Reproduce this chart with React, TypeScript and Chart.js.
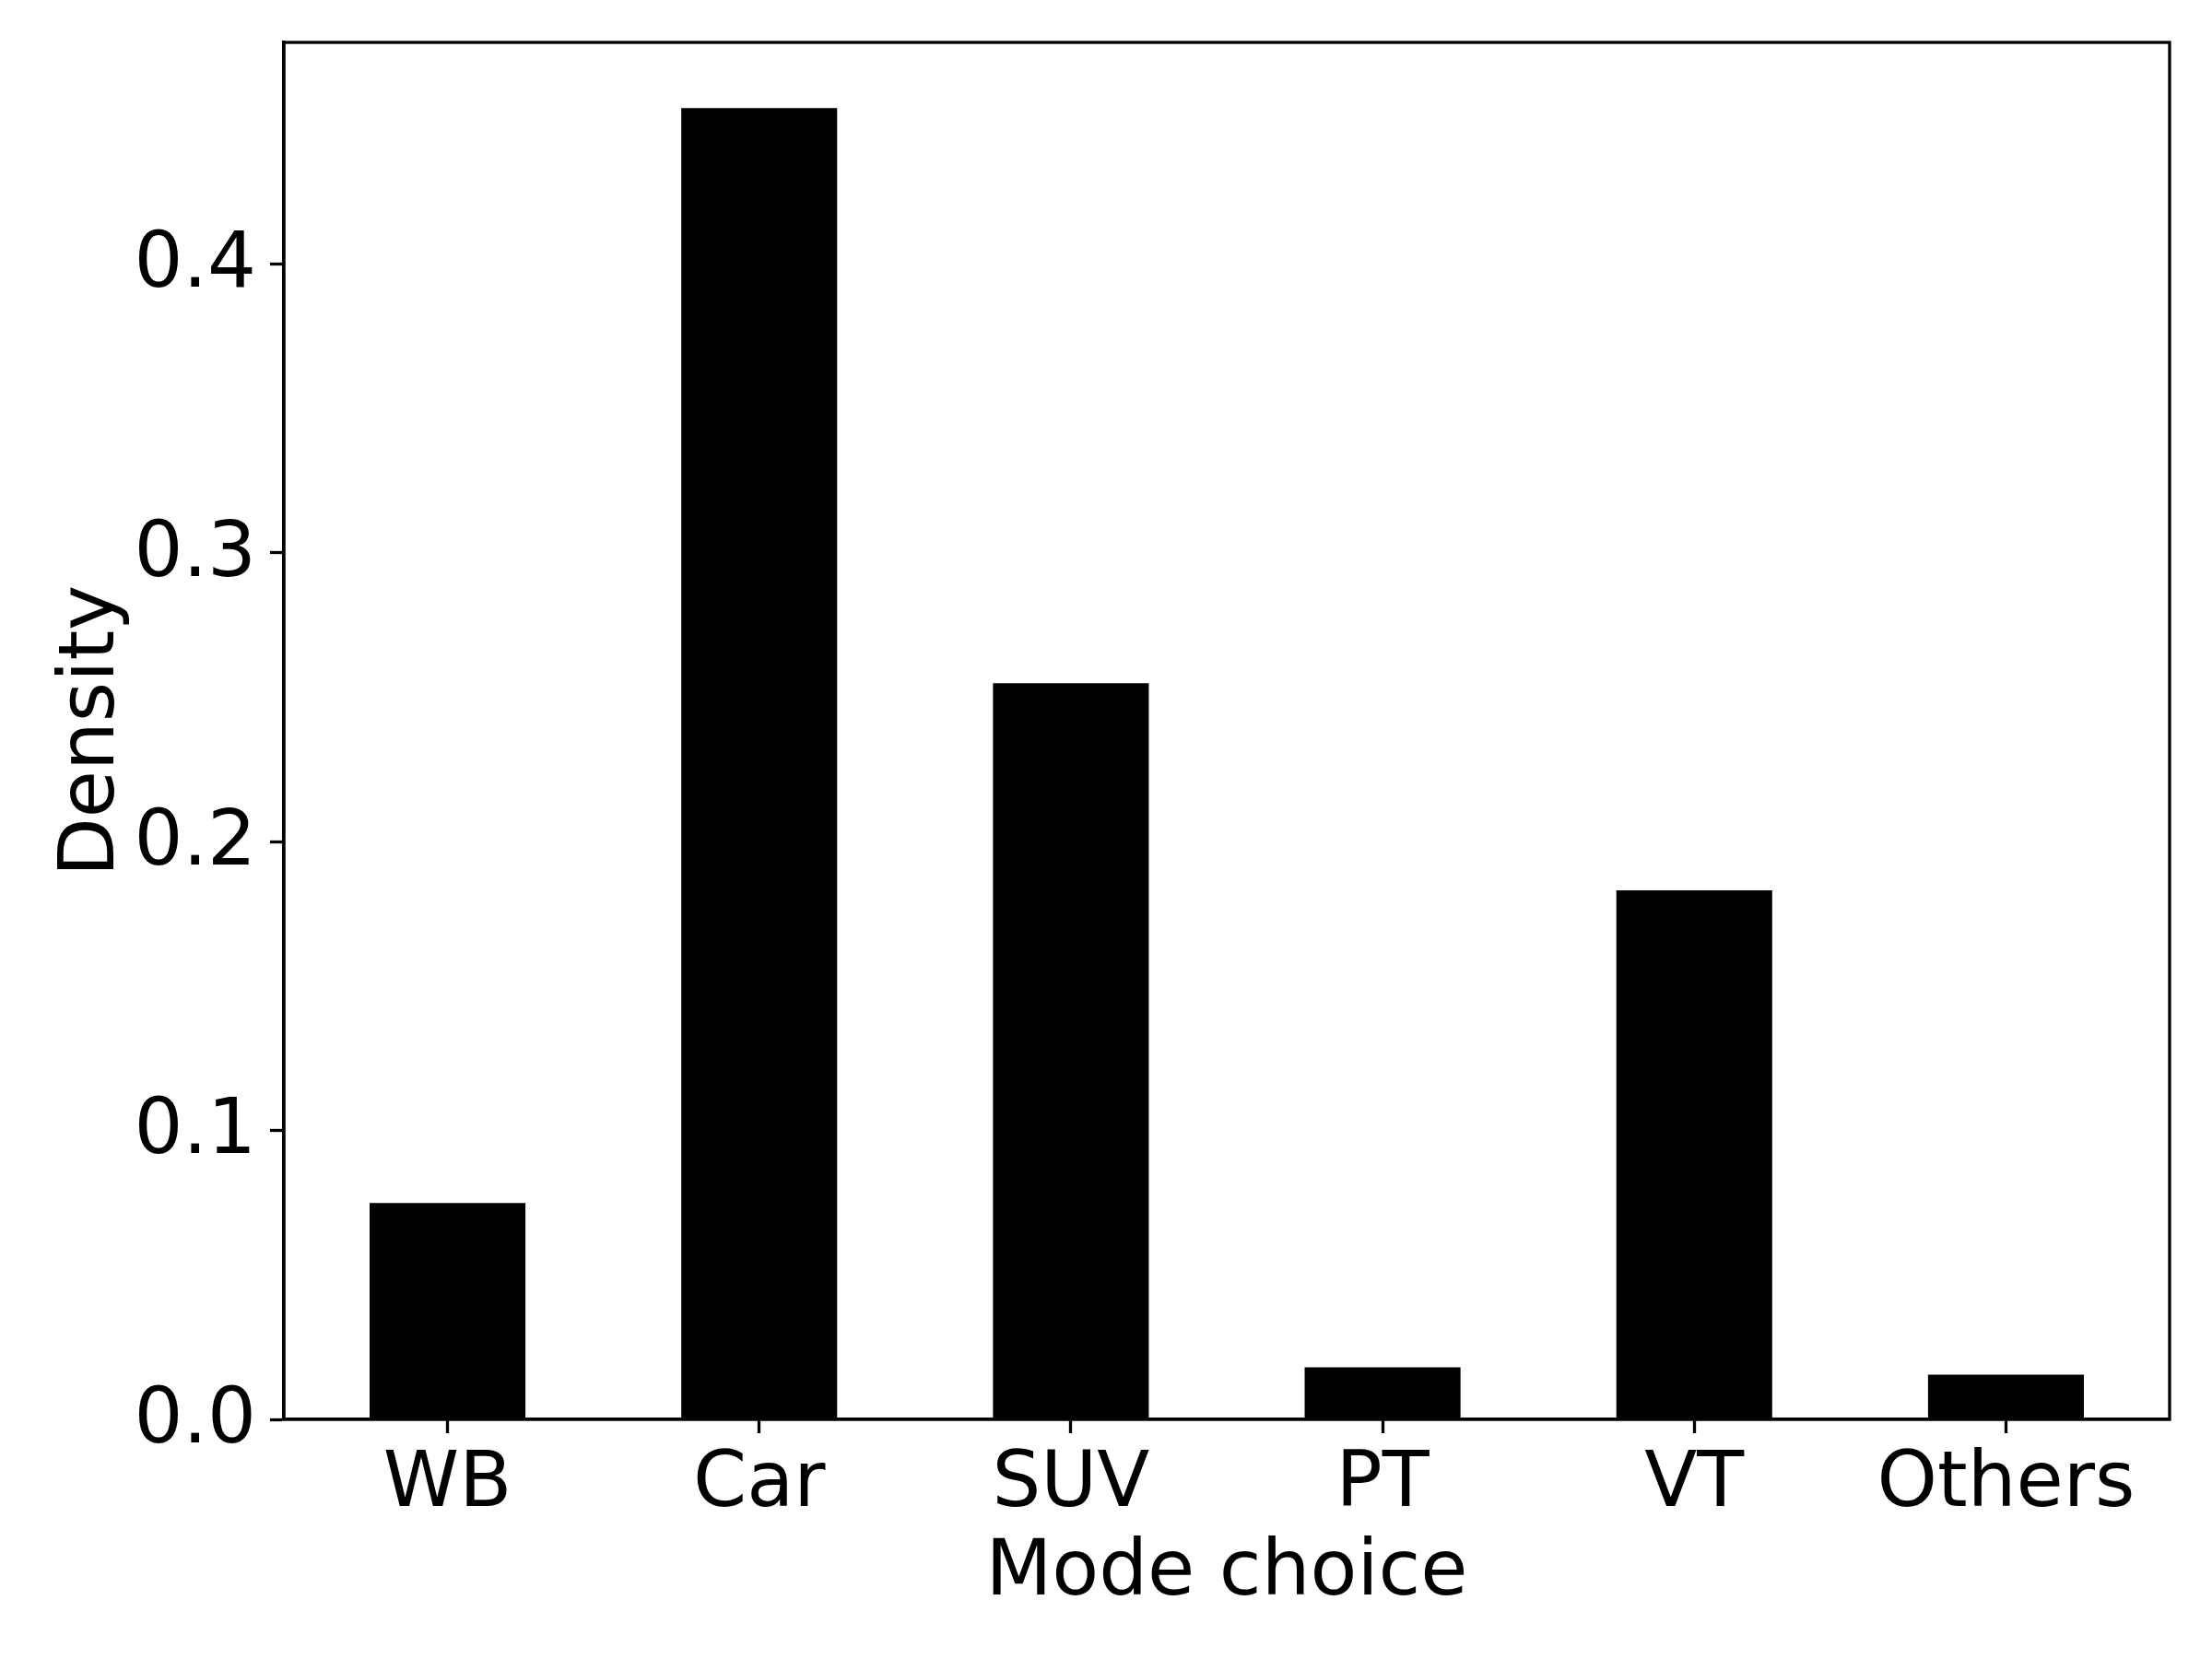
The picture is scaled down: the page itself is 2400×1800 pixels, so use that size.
import React, { useEffect, useRef } from "react";
import { Chart, registerables } from "chart.js";

Chart.register(...registerables);

const categories = ["WB", "Car", "SUV", "PT", "VT", "Others"];
const densityValues = [0.0749, 0.4541, 0.2549, 0.018, 0.1832, 0.0155];
const yTickValues = [0, 0.1, 0.2, 0.3, 0.4];
const xLabel = "Mode choice";
const yLabel = "Density";

const FONT = "'DejaVu Sans', 'Liberation Sans', sans-serif";
const FS = 83.3;
const LW = 3.3;

const framePlugin = {
  id: "frame",
  afterDraw(chart: any) {
    const { ctx, chartArea } = chart;
    ctx.save();
    ctx.strokeStyle = "#000";
    ctx.lineWidth = LW;
    ctx.strokeRect(
      chartArea.left,
      chartArea.top,
      chartArea.right - chartArea.left,
      chartArea.bottom - chartArea.top
    );
    ctx.restore();
  },
};

export default function App() {
  const ref = useRef<HTMLCanvasElement | null>(null);

  useEffect(() => {
    if (!ref.current) return;
    const maxVal = Math.max(...densityValues);
    const chart = new Chart(ref.current, {
      type: "bar",
      data: {
        datasets: [
          {
            data: densityValues.map((v, i) => ({ x: i, y: v })),
            backgroundColor: "#000000",
            borderWidth: 0,
            barPercentage: 0.5,
            categoryPercentage: 1.0,
          },
        ],
      },
      options: {
        animation: false,
        responsive: false,
        devicePixelRatio: 1,
        layout: { padding: { top: 46, right: 46, left: 0, bottom: 0 } },
        plugins: {
          legend: { display: false },
          tooltip: { enabled: false },
        },
        scales: {
          x: {
            type: "linear",
            offset: false,
            min: -0.525,
            max: 5.525,
            afterBuildTicks: (scale: any) => {
              scale.ticks = categories.map((_, i) => ({ value: i }));
            },
            afterFit: (scale: any) => {
              scale.height = 260;
              scale.paddingLeft = 0;
              scale.paddingRight = 0;
            },
            ticks: {
              autoSkip: false,
              maxRotation: 0,
              minRotation: 0,
              padding: 16,
              color: "#000",
              font: { family: FONT, size: FS, lineHeight: 1.0 },
              callback: (value: any) => categories[Math.round(Number(value))] ?? "",
            },
            grid: {
              display: true,
              offset: false,
              drawOnChartArea: false,
              drawTicks: true,
              tickLength: 15,
              tickWidth: LW,
              tickColor: "#000",
              color: "#000",
            },
            border: { display: true, color: "#000", width: LW },
            title: {
              display: true,
              text: xLabel,
              color: "#000",
              font: { family: FONT, size: FS, lineHeight: 1.2 },
              padding: { top: 0, bottom: 42 },
            },
          },
          y: {
            type: "linear",
            min: 0,
            max: maxVal * 1.05,
            afterBuildTicks: (scale: any) => {
              scale.ticks = yTickValues.map((v) => ({ value: v }));
            },
            afterFit: (scale: any) => {
              scale.width = 308;
              scale.paddingTop = 0;
              scale.paddingBottom = 0;
            },
            ticks: {
              padding: 15,
              labelOffset: 3,
              color: "#000",
              font: { family: FONT, size: FS, lineHeight: 1.0 },
              callback: (value: any) => Number(value).toFixed(1),
            },
            grid: {
              display: true,
              drawOnChartArea: false,
              drawTicks: true,
              tickLength: 15,
              tickWidth: LW,
              tickColor: "#000",
              color: "#000",
            },
            border: { display: true, color: "#000", width: LW },
            title: {
              display: true,
              text: yLabel,
              color: "#000",
              font: { family: FONT, size: FS, lineHeight: 1.2 },
              padding: { top: 51, bottom: 0 },
            },
          },
        },
      },
      plugins: [framePlugin],
    });
    return () => chart.destroy();
  }, []);

  return (
    <div
      style={{
        position: "absolute",
        left: 0,
        top: 0,
        width: 2400,
        height: 1800,
        background: "#fff",
      }}
    >
      <canvas ref={ref} width={2400} height={1800} style={{ width: 2400, height: 1800 }} />
    </div>
  );
}
